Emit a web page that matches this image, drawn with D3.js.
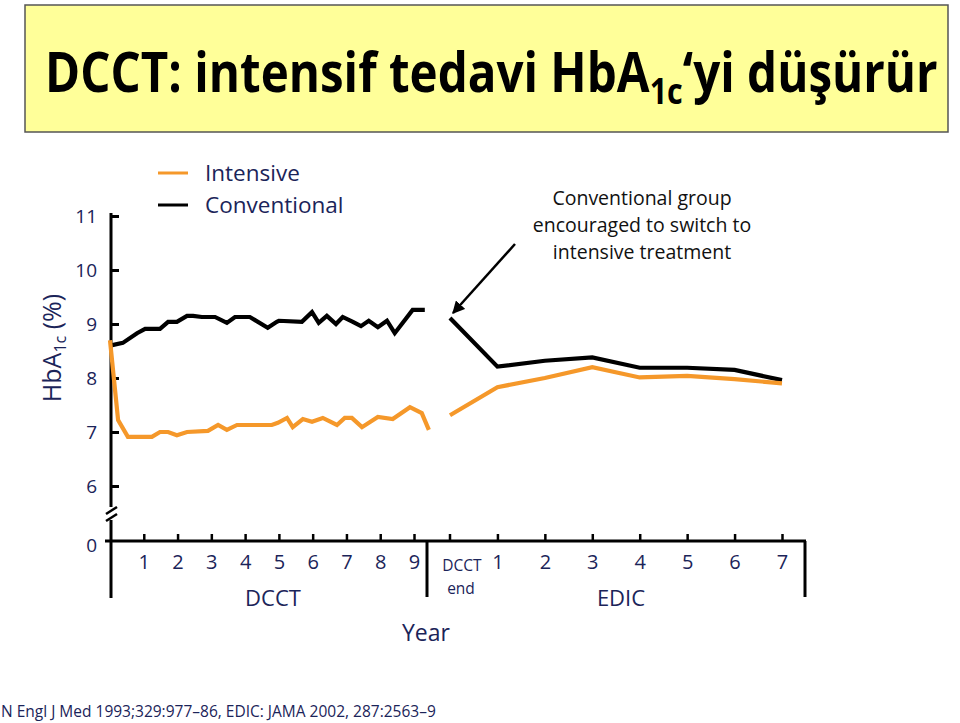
<!DOCTYPE html>
<html>
<head>
<meta charset="utf-8">
<style>
  body { margin: 0; background: #fff; }
  svg text { font-family: "Open Sans", sans-serif; }
  .navy { fill: #1b2459; }
</style>
</head>
<body>
<div class="viz"></div>
<script src="https://cdnjs.cloudflare.com/ajax/libs/d3/7.8.5/d3.min.js"></script>
<script>
// DCCT phase, quarterly-ish readings (years since start, HbA1c %)
var dcctConvYears = [0, 0.38, 0.8, 1.04, 1.27, 1.48, 1.72, 1.98, 2.28, 2.46, 2.72, 3.11, 3.46, 3.7, 4.14, 4.67, 4.94, 5.0, 5.68, 5.98, 6.18, 6.42, 6.69, 6.89, 7.19, 7.43, 7.66, 7.93, 8.2, 8.43, 8.96, 9.32];
var dcctConvVals  = [8.6, 8.65, 8.83, 8.91, 8.91, 8.91, 9.04, 9.04, 9.15, 9.15, 9.13, 9.13, 9.02, 9.13, 9.13, 8.93, 9.04, 9.06, 9.04, 9.22, 9.02, 9.15, 9.0, 9.13, 9.04, 8.96, 9.06, 8.94, 9.06, 8.83, 9.26, 9.26];

var dcctIntYears = [0, 0.24, 0.53, 1.24, 1.48, 1.72, 1.98, 2.28, 2.9, 3.2, 3.46, 3.76, 4.79, 4.97, 5.24, 5.41, 5.71, 5.98, 6.3, 6.72, 6.95, 7.16, 7.46, 7.93, 8.37, 8.88, 9.23, 9.44];
var dcctIntVals  = [8.7, 7.22, 6.91, 6.91, 7.0, 7.0, 6.94, 7.0, 7.02, 7.13, 7.04, 7.13, 7.13, 7.17, 7.26, 7.09, 7.24, 7.19, 7.26, 7.13, 7.26, 7.26, 7.09, 7.28, 7.24, 7.46, 7.35, 7.04];

// EDIC phase, yearly
var edicYears = [0, 1, 2, 3, 4, 5, 6, 7];
var edicConv  = [9.11, 8.21, 8.32, 8.38, 8.19, 8.19, 8.15, 7.96];
var edicInt   = [7.31, 7.83, 8.0, 8.2, 8.01, 8.04, 7.98, 7.9];

var yTicks = [6, 7, 8, 9, 10, 11];
var dcctTicks = [1, 2, 3, 4, 5, 6, 7, 8, 9];
var edicTicks = [1, 2, 3, 4, 5, 6, 7];

var orange = "#f5982a", navy = "#1b2459";

var svg = d3.select(".viz").append("svg")
    .attr("width", 960)
    .attr("height", 723);

// title box
svg.append("rect")
    .attr("x", 25).attr("y", 5)
    .attr("width", 923).attr("height", 127)
    .attr("fill", "#ffff99")
    .attr("stroke", "#555").attr("stroke-width", 1.5);

var titleG = svg.append("g");
var title = titleG.append("text")
    .attr("x", 0).attr("y", 0)
    .attr("font-size", 56).attr("font-weight", 700)
    .attr("fill", "#000");
title.append("tspan").text("DCCT: intensif tedavi HbA");
title.append("tspan").attr("font-size", 36).attr("dy", 12).text("1c");
title.append("tspan").attr("dy", -12).text("\u2018yi düşürür");
// squeeze to the width of the narrow original face
var tw = title.node().getComputedTextLength();
titleG.attr("transform", "translate(45,92) scale(" + (893 / tw) + ",1)");

// scales
var y = d3.scaleLinear().domain([6, 11]).range([486, 216]);
var xD = d3.scaleLinear().domain([0, 9]).range([110, 414]);
var xE = d3.scaleLinear().domain([0, 7]).range([450, 782]);
var axisY = 541, axisX = 111;

// y axis (ticks point inward)
var gy = svg.append("g")
    .attr("transform", "translate(" + axisX + ",0)")
    .call(d3.axisLeft(y).tickValues(yTicks).tickSize(-8).tickPadding(14).tickFormat(d3.format("d")));
gy.select(".domain").remove();
gy.selectAll(".tick line").attr("stroke", "#000").attr("stroke-width", 3);
gy.selectAll(".tick text").attr("font-size", 19).attr("fill", navy).attr("font-family", "Open Sans");

// y axis line with break
svg.append("line").attr("x1", axisX).attr("x2", axisX).attr("y1", 213).attr("y2", 507)
    .attr("stroke", "#000").attr("stroke-width", 3);
svg.append("line").attr("x1", axisX).attr("x2", axisX).attr("y1", 520).attr("y2", 598)
    .attr("stroke", "#000").attr("stroke-width", 3);
[0, 7].forEach(function (o) {
    svg.append("line")
        .attr("x1", axisX - 5).attr("y1", 514 + o)
        .attr("x2", axisX + 6).attr("y2", 507 + o)
        .attr("stroke", "#000").attr("stroke-width", 2.5);
});
svg.append("text").attr("x", 97).attr("y", 552).attr("text-anchor", "end")
    .attr("font-size", 19).attr("class", "navy").text("0");

// x axis
svg.append("line").attr("x1", 105).attr("x2", 806).attr("y1", axisY).attr("y2", axisY)
    .attr("stroke", "#000").attr("stroke-width", 3);
svg.append("line").attr("x1", 427).attr("x2", 427).attr("y1", axisY).attr("y2", 597)
    .attr("stroke", "#000").attr("stroke-width", 3);
svg.append("line").attr("x1", 805).attr("x2", 805).attr("y1", axisY).attr("y2", 597)
    .attr("stroke", "#000").attr("stroke-width", 3);

function styleX(g) {
    g.select(".domain").remove();
    g.selectAll(".tick line").attr("stroke", "#000").attr("stroke-width", 2.5);
    g.selectAll(".tick text").attr("font-size", 20).attr("fill", navy).attr("font-family", "Open Sans");
}
svg.append("g").attr("transform", "translate(0," + axisY + ")")
    .call(d3.axisBottom(xD).tickValues(dcctTicks).tickSize(-7).tickPadding(14).tickFormat(d3.format("d")))
    .call(styleX);
svg.append("g").attr("transform", "translate(0," + axisY + ")")
    .call(d3.axisBottom(xE).tickValues(edicTicks).tickSize(-7).tickPadding(14).tickFormat(d3.format("d")))
    .call(styleX);
svg.append("line").attr("x1", xE(0)).attr("x2", xE(0)).attr("y1", axisY).attr("y2", axisY - 7)
    .attr("stroke", "#000").attr("stroke-width", 2.5);

svg.append("text").attr("x", 462).attr("y", 571).attr("text-anchor", "middle")
    .attr("font-size", 15.5).attr("class", "navy").text("DCCT");
svg.append("text").attr("x", 461).attr("y", 594).attr("text-anchor", "middle")
    .attr("font-size", 15.5).attr("class", "navy").text("end");
svg.append("text").attr("x", 273).attr("y", 606).attr("text-anchor", "middle")
    .attr("font-size", 22).attr("class", "navy").text("DCCT");
svg.append("text").attr("x", 621).attr("y", 606).attr("text-anchor", "middle")
    .attr("font-size", 22).attr("class", "navy").text("EDIC");
svg.append("text").attr("x", 426).attr("y", 641).attr("text-anchor", "middle")
    .attr("font-size", 23).attr("class", "navy").text("Year");

// y label
var yl = svg.append("text")
    .attr("transform", "translate(61,348) rotate(-90)")
    .attr("text-anchor", "middle")
    .attr("font-size", 25).attr("class", "navy");
yl.append("tspan").text("HbA");
yl.append("tspan").attr("font-size", 16).attr("dy", 5).text("1c");
yl.append("tspan").attr("dy", -5).text(" (%)");

// lines
function drawLine(xs, vs, xScale, color) {
    var pts = xs.map(function (d, i) { return [xScale(d), y(vs[i])]; });
    svg.append("path")
        .datum(pts)
        .attr("d", d3.line())
        .attr("fill", "none")
        .attr("stroke", color)
        .attr("stroke-width", 4.2)
        .attr("stroke-linejoin", "miter");
}
drawLine(dcctConvYears, dcctConvVals, xD, "#000");
drawLine(dcctIntYears, dcctIntVals, xD, orange);
drawLine(edicYears, edicConv, xE, "#000");
drawLine(edicYears, edicInt, xE, orange);

// legend
svg.append("line").attr("x1", 158).attr("x2", 188).attr("y1", 173).attr("y2", 173)
    .attr("stroke", orange).attr("stroke-width", 3);
svg.append("line").attr("x1", 158).attr("x2", 188).attr("y1", 205).attr("y2", 205)
    .attr("stroke", "#000").attr("stroke-width", 3);
svg.append("text").attr("x", 205).attr("y", 181).attr("font-size", 22.5).attr("class", "navy").text("Intensive");
svg.append("text").attr("x", 205).attr("y", 213).attr("font-size", 22.5).attr("class", "navy").text("Conventional");

// annotation
var notes = ["Conventional group", "encouraged to switch to", "intensive treatment"];
svg.selectAll(".note").data(notes).enter().append("text")
    .attr("class", "note")
    .attr("x", 642)
    .attr("y", function (d, i) { return 205 + i * 27; })
    .attr("text-anchor", "middle")
    .attr("font-size", 19.5)
    .attr("fill", "#111")
    .text(function (d) { return d; });

svg.append("defs").append("marker")
    .attr("id", "arr").attr("viewBox", "0 0 10 10")
    .attr("refX", 9).attr("refY", 5)
    .attr("markerWidth", 5).attr("markerHeight", 5)
    .attr("orient", "auto")
    .append("path").attr("d", "M0,0 L10,5 L0,10 z").attr("fill", "#000");
svg.append("line")
    .attr("x1", 515).attr("y1", 244).attr("x2", 453).attr("y2", 313)
    .attr("stroke", "#000").attr("stroke-width", 2.5)
    .attr("marker-end", "url(#arr)");

// source
svg.append("text").attr("x", 1).attr("y", 717).attr("font-size", 15.5).attr("class", "navy")
    .text("N Engl J Med 1993;329:977\u201386, EDIC: JAMA 2002, 287:2563\u20139");
</script>
</body>
</html>
